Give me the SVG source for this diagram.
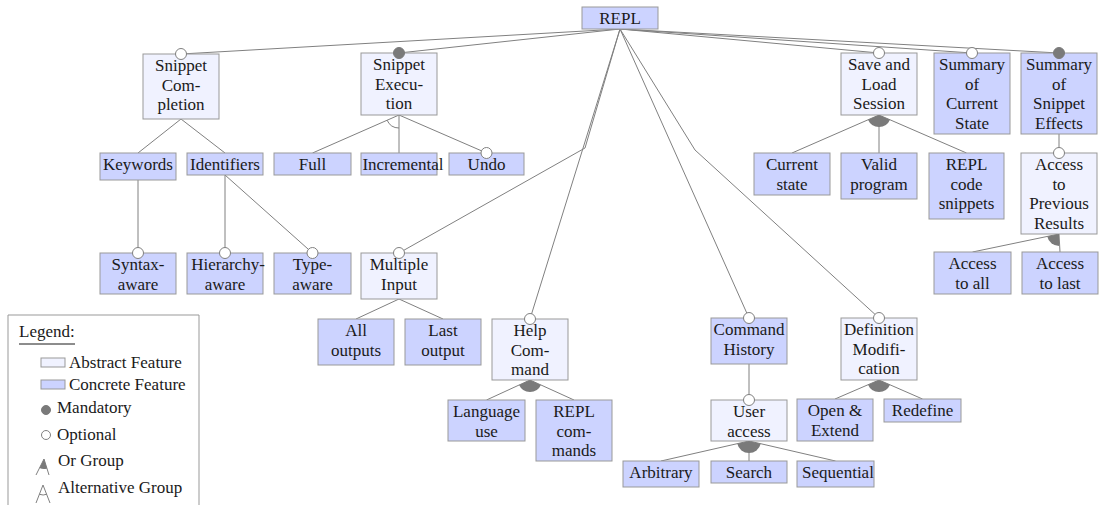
<svg xmlns="http://www.w3.org/2000/svg" width="1099" height="509" viewBox="0 0 1099 509">
<style>
.abs{fill:#f0f2ff;stroke:#999;stroke-width:1}
.con{fill:#ccd3ff;stroke:#999;stroke-width:1}
text, tspan{font-family:"Liberation Serif","Times New Roman",Tinos,serif}
text{font-size:17px;fill:#1a1a1a}
.t{text-anchor:middle}
.ln{stroke:#808080;stroke-width:1;fill:none}
.opt{fill:#fff;stroke:#808080;stroke-width:1}
.man{fill:#7a7a7a;stroke:#7a7a7a;stroke-width:1}
.orx{fill:#7a7a7a;stroke:none}
</style>
<rect width="1099" height="509" fill="#fff"/>
<g id="connectors" class="ln">
<line x1="620" y1="29" x2="181" y2="54"/>
<line x1="620" y1="29" x2="399" y2="53"/>
<line x1="620" y1="29" x2="879" y2="53"/>
<line x1="620" y1="29" x2="972" y2="53"/>
<line x1="620" y1="29" x2="1059" y2="53"/>
<polyline points="620,29 585,148 399,253"/>
<line x1="620" y1="29" x2="530" y2="319"/>
<line x1="620" y1="29" x2="749" y2="318"/>
<polyline points="620,29 695,150 879,318"/>
<line x1="181" y1="119" x2="138" y2="153"/>
<line x1="181" y1="119" x2="225" y2="153"/>
<line x1="138" y1="180" x2="138" y2="253"/>
<line x1="225" y1="175" x2="225" y2="253"/>
<line x1="225" y1="175" x2="312.5" y2="253"/>
<line x1="399" y1="115" x2="312.5" y2="153"/>
<line x1="399" y1="115" x2="399" y2="153"/>
<line x1="399" y1="115" x2="486.5" y2="153"/>
<line x1="399" y1="299" x2="356" y2="319"/>
<line x1="399" y1="299" x2="443" y2="319"/>
<line x1="530" y1="380" x2="486.5" y2="400"/>
<line x1="530" y1="380" x2="574" y2="400"/>
<line x1="749" y1="364" x2="749" y2="400"/>
<line x1="749" y1="441" x2="661" y2="461"/>
<line x1="749" y1="441" x2="749" y2="461"/>
<line x1="749" y1="441" x2="835.5" y2="461"/>
<line x1="879" y1="380" x2="835" y2="399"/>
<line x1="879" y1="380" x2="922.5" y2="399"/>
<line x1="879" y1="115" x2="792" y2="153"/>
<line x1="879" y1="115" x2="879" y2="153"/>
<line x1="879" y1="115" x2="966.5" y2="153"/>
<line x1="1059" y1="134" x2="1059" y2="153"/>
<line x1="1059" y1="234" x2="972.5" y2="252"/>
<line x1="1059" y1="234" x2="1060" y2="252"/>
</g>
<g id="n-repl"><rect class="con" x="582" y="7" width="76" height="22"/><text class="t" x="620" y="24" font-family="Tinos">REPL</text></g>
<g id="n-snippet-completion"><rect class="abs" x="143" y="54" width="76" height="65"/><text class="t" x="181" y="71" font-family="Tinos">Snippet<tspan x="181" dy="19.6">Com-</tspan><tspan x="181" dy="19.6">pletion</tspan></text></g>
<g id="n-snippet-execution"><rect class="abs" x="361" y="53" width="76" height="62"/><text class="t" x="399" y="70" font-family="Tinos">Snippet<tspan x="399" dy="19.6">Execu-</tspan><tspan x="399" dy="19.6">tion</tspan></text></g>
<g id="n-save-load"><rect class="abs" x="841" y="53" width="76" height="62"/><text class="t" x="879" y="70" font-family="Tinos">Save and<tspan x="879" dy="19.6">Load</tspan><tspan x="879" dy="19.6">Session</tspan></text></g>
<g id="n-summary-state"><rect class="con" x="934" y="53" width="76" height="81"/><text class="t" x="972" y="70" font-family="Tinos">Summary<tspan x="972" dy="19.6">of</tspan><tspan x="972" dy="19.6">Current</tspan><tspan x="972" dy="19.6">State</tspan></text></g>
<g id="n-summary-effects"><rect class="con" x="1021" y="53" width="76" height="81"/><text class="t" x="1059" y="70" font-family="Tinos">Summary<tspan x="1059" dy="19.6">of</tspan><tspan x="1059" dy="19.6">Snippet</tspan><tspan x="1059" dy="19.6">Effects</tspan></text></g>
<g id="n-keywords"><rect class="con" x="100" y="153" width="76" height="27"/><text class="t" x="138" y="170" font-family="Tinos">Keywords</text></g>
<g id="n-identifiers"><rect class="con" x="187" y="153" width="76" height="22"/><text class="t" x="225" y="170" font-family="Tinos">Identifiers</text></g>
<g id="n-full"><rect class="con" x="274" y="153" width="77" height="22"/><text class="t" x="312.5" y="170" font-family="Tinos">Full</text></g>
<g id="n-incremental"><rect class="con" x="361" y="153" width="76" height="22"/><text class="t" x="403" y="170" font-family="Tinos">Incremental</text></g>
<g id="n-undo"><rect class="con" x="449" y="153" width="75" height="22"/><text class="t" x="486.5" y="170" font-family="Tinos">Undo</text></g>
<g id="n-current-state"><rect class="con" x="754" y="153" width="76" height="42"/><text class="t" x="792" y="170" font-family="Tinos">Current<tspan x="792" dy="19.6">state</tspan></text></g>
<g id="n-valid-program"><rect class="con" x="841" y="153" width="76" height="46"/><text class="t" x="879" y="170" font-family="Tinos">Valid<tspan x="879" dy="19.6">program</tspan></text></g>
<g id="n-repl-code"><rect class="con" x="929" y="153" width="75" height="66"/><text class="t" x="966.5" y="170" font-family="Tinos">REPL<tspan x="966.5" dy="19.6">code</tspan><tspan x="966.5" dy="19.6">snippets</tspan></text></g>
<g id="n-access-prev"><rect class="abs" x="1021" y="153" width="76" height="81"/><text class="t" x="1059" y="170" font-family="Tinos">Access<tspan x="1059" dy="19.6">to</tspan><tspan x="1059" dy="19.6">Previous</tspan><tspan x="1059" dy="19.6">Results</tspan></text></g>
<g id="n-syntax"><rect class="con" x="100" y="253" width="76" height="41"/><text class="t" x="138" y="270" font-family="Tinos">Syntax-<tspan x="138" dy="19.6">aware</tspan></text></g>
<g id="n-hierarchy"><rect class="con" x="187" y="253" width="76" height="41"/><text class="t" x="228" y="270" font-family="Tinos">Hierarchy-<tspan x="225" dy="19.6">aware</tspan></text></g>
<g id="n-type"><rect class="con" x="274" y="253" width="77" height="41"/><text class="t" x="312.5" y="270" font-family="Tinos">Type-<tspan x="312.5" dy="19.6">aware</tspan></text></g>
<g id="n-multiple-input"><rect class="abs" x="361" y="253" width="76" height="46"/><text class="t" x="399" y="270" font-family="Tinos">Multiple<tspan x="399" dy="19.6">Input</tspan></text></g>
<g id="n-all-outputs"><rect class="con" x="318" y="319" width="76" height="46"/><text class="t" x="356" y="336" font-family="Tinos">All<tspan x="356" dy="19.6">outputs</tspan></text></g>
<g id="n-last-output"><rect class="con" x="405" y="319" width="76" height="46"/><text class="t" x="443" y="336" font-family="Tinos">Last<tspan x="443" dy="19.6">output</tspan></text></g>
<g id="n-help"><rect class="abs" x="492" y="319" width="76" height="61"/><text class="t" x="530" y="336" font-family="Tinos">Help<tspan x="530" dy="19.6">Com-</tspan><tspan x="530" dy="19.6">mand</tspan></text></g>
<g id="n-language-use"><rect class="con" x="448" y="400" width="77" height="41"/><text class="t" x="486.5" y="417" font-family="Tinos">Language<tspan x="486.5" dy="19.6">use</tspan></text></g>
<g id="n-repl-commands"><rect class="con" x="536" y="400" width="76" height="61"/><text class="t" x="574" y="417" font-family="Tinos">REPL<tspan x="574" dy="19.6">com-</tspan><tspan x="574" dy="19.6">mands</tspan></text></g>
<g id="n-command-history"><rect class="con" x="711" y="318" width="76" height="46"/><text class="t" x="749" y="335" font-family="Tinos">Command<tspan x="749" dy="19.6">History</tspan></text></g>
<g id="n-user-access"><rect class="abs" x="711" y="400" width="76" height="41"/><text class="t" x="749" y="417" font-family="Tinos">User<tspan x="749" dy="19.6">access</tspan></text></g>
<g id="n-arbitrary"><rect class="con" x="623" y="461" width="76" height="26"/><text class="t" x="661" y="478" font-family="Tinos">Arbitrary</text></g>
<g id="n-search"><rect class="con" x="711" y="461" width="76" height="22"/><text class="t" x="749" y="478" font-family="Tinos">Search</text></g>
<g id="n-sequential"><rect class="con" x="797" y="461" width="77" height="26"/><text class="t" x="838" y="478" font-family="Tinos">Sequential</text></g>
<g id="n-definition-mod"><rect class="abs" x="841" y="318" width="76" height="62"/><text class="t" x="879" y="335" font-family="Tinos">Definition<tspan x="879" dy="19.6">Modifi-</tspan><tspan x="879" dy="19.6">cation</tspan></text></g>
<g id="n-open-extend"><rect class="con" x="797" y="399" width="76" height="42"/><text class="t" x="835" y="416" font-family="Tinos">Open &amp;<tspan x="835" dy="19.6">Extend</tspan></text></g>
<g id="n-redefine"><rect class="con" x="884" y="399" width="77" height="23"/><text class="t" x="922.5" y="416" font-family="Tinos">Redefine</text></g>
<g id="n-access-all"><rect class="con" x="934" y="252" width="77" height="42"/><text class="t" x="972.5" y="269" font-family="Tinos">Access<tspan x="972.5" dy="19.6">to all</tspan></text></g>
<g id="n-access-last"><rect class="con" x="1022" y="252" width="76" height="42"/><text class="t" x="1060" y="269" font-family="Tinos">Access<tspan x="1060" dy="19.6">to last</tspan></text></g>
<g id="decorators">
<circle class="opt" cx="181" cy="54" r="5.5"/>
<circle class="man" cx="399" cy="53" r="5.5"/>
<circle class="opt" cx="879" cy="53" r="5.5"/>
<circle class="opt" cx="972" cy="53" r="5.5"/>
<circle class="man" cx="1059" cy="53" r="5.5"/>
<circle class="opt" cx="486.5" cy="153" r="5.5"/>
<circle class="opt" cx="1059" cy="153" r="5.5"/>
<circle class="opt" cx="138" cy="253" r="5.5"/>
<circle class="opt" cx="225" cy="253" r="5.5"/>
<circle class="opt" cx="312.5" cy="253" r="5.5"/>
<circle class="opt" cx="399" cy="253" r="5.5"/>
<circle class="opt" cx="530" cy="319" r="5.5"/>
<circle class="opt" cx="749" cy="318" r="5.5"/>
<circle class="opt" cx="749" cy="400" r="5.5"/>
<circle class="opt" cx="879" cy="318" r="5.5"/>
<path class="ln" d="M387.1 120.2 A13 13 0 0 0 399 128"/>
<path class="orx" d="M530 380 L519.1 385 A12 12 0 0 0 540.9 385 Z"/>
<path class="orx" d="M749 441 L737.3 443.7 A12 12 0 0 0 760.7 443.7 Z"/>
<path class="orx" d="M879 380 L868 384.8 A12 12 0 0 0 890 384.8 Z"/>
<path class="orx" d="M879 115 L868 119.8 A12 12 0 0 0 890 119.8 Z"/>
<path class="orx" d="M1059 234 L1047.3 236.4 A12 12 0 0 0 1059 246 Z"/>
</g>
<g id="legend">
<path d="M8 505 V315 H199 V505" fill="none" stroke="#999" stroke-width="1"/>
<text x="19" y="337" font-family="Tinos">Legend:</text>
<line x1="19" y1="344" x2="75" y2="344" stroke="#1a1a1a" stroke-width="1"/>
<rect class="abs" x="41" y="358" width="24" height="9"/>
<text x="69" y="368" font-family="Tinos">Abstract Feature</text>
<rect class="con" x="41" y="380" width="24" height="9"/>
<text x="69" y="390" font-family="Tinos">Concrete Feature</text>
<circle class="man" cx="46" cy="410" r="4.5"/>
<text x="57" y="413" font-family="Tinos">Mandatory</text>
<circle class="opt" cx="46" cy="435" r="4.5"/>
<text x="57" y="440" font-family="Tinos">Optional</text>
<path class="ln" d="M36 475 L44 459 L49 475"/>
<path class="orx" d="M44 459 L39.5 468 A10 10 0 0 0 47.1 468.5 Z"/>
<text x="58" y="466" font-family="Tinos">Or Group</text>
<path class="ln" d="M36 503 L43 485 L50 503"/>
<path class="ln" d="M39.4 494.3 A10 10 0 0 0 46.9 494.2"/>
<text x="58" y="493" font-family="Tinos">Alternative Group</text>
</g>
</svg>
